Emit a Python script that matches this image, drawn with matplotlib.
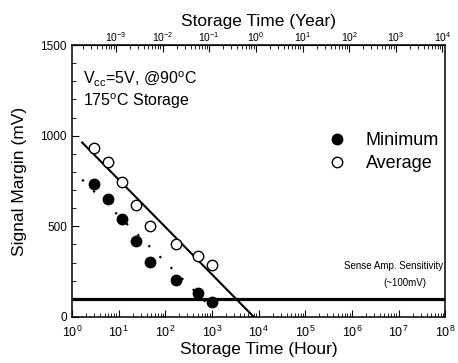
import numpy as np
import matplotlib
matplotlib.use("Agg")
import matplotlib.pyplot as plt
from matplotlib.ticker import (LogLocator, MultipleLocator, NullFormatter,
                               LogFormatterMathtext, FixedLocator)

plt.rcParams['font.family'] = ['Liberation Sans', 'DejaVu Sans']
plt.rcParams['mathtext.fontset'] = 'custom'
plt.rcParams['mathtext.rm'] = 'Liberation Sans'
plt.rcParams['mathtext.it'] = 'Liberation Sans:italic'

# storage time (hour)
hours = [3, 6, 12, 24, 48, 168, 500, 1000]
# signal margin (mV)
minimum = [733, 650, 541, 421, 302, 202, 132, 82]
average = [934, 852, 742, 619, 502, 403, 335, 286]

# fitted lines
fit_avg_x = [1.66, 7900]
fit_avg_y = [962, 0]
fit_min_x = [1.66, 1020]
fit_min_y = [757, 46]

sense_level = 100
hours_per_year = 8760
year_ticks = [1e-3, 1e-2, 1e-1, 1e0, 1e1, 1e2, 1e3, 1e4]

fig = plt.figure(figsize=(4.58, 3.63), dpi=100)
ax = fig.add_axes([0.157, 0.127, 0.815, 0.749])

ax.axhline(sense_level, color='black', lw=2.3)
ax.plot(fit_avg_x, fit_avg_y, color='black', lw=1.5)
ax.plot(fit_min_x, fit_min_y, color='black', lw=1.6, linestyle=(0, (1, 6)))
ax.plot(hours, minimum, 'o', color='black', ms=7.5, label='Minimum')
ax.plot(hours, average, 'o', mfc='white', mec='black', mew=1, ms=7.5, label='Average')

ax.set_xscale('log')
ax.set_xlim(1, 1e8)
ax.set_ylim(0, 1500)
ax.xaxis.set_major_locator(LogLocator(base=10, numticks=20))
ax.xaxis.set_minor_locator(LogLocator(base=10, subs=np.arange(2, 10), numticks=20))
ax.xaxis.set_major_formatter(LogFormatterMathtext())
ax.xaxis.set_minor_formatter(NullFormatter())
ax.yaxis.set_major_locator(MultipleLocator(500))
ax.yaxis.set_minor_locator(MultipleLocator(100))
ax.tick_params(which='both', direction='in', labelsize=8.5)
ax.tick_params(which='major', length=5)
ax.tick_params(which='minor', length=3)
ax.tick_params(axis='x', pad=6, labelsize=9)
for s in ax.spines.values():
    s.set_linewidth(1.1)

ax.set_xlabel('Storage Time (Hour)', fontsize=12.5, labelpad=1)
ax.set_ylabel('Signal Margin (mV)', fontsize=12.5, labelpad=10)

top = ax.secondary_xaxis('top', functions=(lambda h: h / hours_per_year,
                                            lambda y: y * hours_per_year))
top.xaxis.set_major_locator(FixedLocator(year_ticks))
top.xaxis.set_minor_locator(LogLocator(base=10, subs=np.arange(2, 10), numticks=20))
top.xaxis.set_major_formatter(LogFormatterMathtext())
top.xaxis.set_minor_formatter(NullFormatter())
top.tick_params(which='both', direction='in', labelsize=7.5, pad=1)
top.tick_params(which='major', length=5)
top.tick_params(which='minor', length=3)
top.set_xlabel('Storage Time (Year)', fontsize=12.5, labelpad=3)

ax.text(0.03, 0.875, r'V$_{\mathrm{cc}}$=5V, @90$^{\mathrm{o}}$C', transform=ax.transAxes,
        fontsize=11.5, va='center')
ax.text(0.03, 0.795, r'175$^{\mathrm{o}}$C Storage', transform=ax.transAxes,
        fontsize=11.5, va='center')

ax.text(0.995, 279, 'Sense Amp. Sensitivity', transform=ax.get_yaxis_transform(),
        fontsize=7, ha='right', va='center')
ax.text(0.892, 185, '(~100mV)', transform=ax.get_yaxis_transform(),
        fontsize=7, ha='center', va='center')

ax.legend(frameon=False, loc='upper left', bbox_to_anchor=(0.686, 0.68),
          handlelength=1, handletextpad=1.1, labelspacing=0.35,
          borderpad=0, borderaxespad=0, fontsize=13)

fig.savefig('out.png', dpi=100)
